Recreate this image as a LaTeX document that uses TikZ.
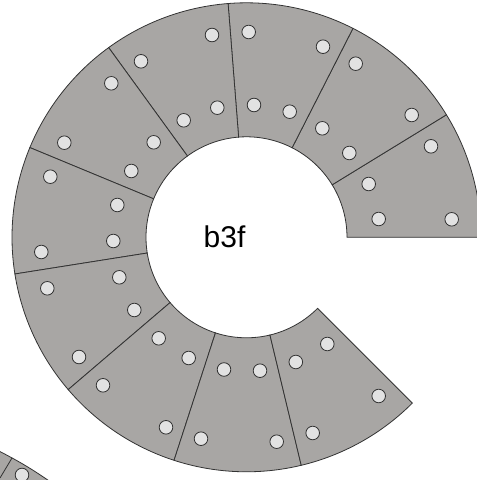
\documentclass[tikz,border=0pt]{standalone}
\usepackage{fontspec}
\setmainfont{Liberation Sans}
\definecolor{padgray}{HTML}{A8A6A4}
\definecolor{holegray}{HTML}{E2E2E2}
\definecolor{edgegray}{HTML}{333333}
\tikzset{
  sector/.style={fill=padgray,draw=edgegray,line width=0.8pt,line join=miter},
  hole/.style={fill=holegray,draw=edgegray,line width=0.8pt}
}
\begin{document}
\begin{tikzpicture}[x=1pt,y=1pt]
            \useasboundingbox (0,0) rectangle (477,480);
            \clip (0,0) rectangle (477,480);
            % ring of ten sectors
            \begin{scope}[shift={(246.5,242.7)}]
            \foreach \a in {0,31.5,...,283.5} {
                \filldraw[sector] (\a:100.5) -- (\a:234.5)
                    arc[start angle=\a,delta angle=31.5,radius=234.5]
                    -- ({\a+31.5}:100.5)
                    arc[start angle=\a+31.5,delta angle=-31.5,radius=100.5] -- cycle;
            }
            \end{scope}
            % piece of the next ring
            \filldraw[sector] (-5,31) to[bend left=4] (55,-5) -- (-5,-5) -- cycle;
            \coordinate (seamtop) at (12,22);
            \coordinate (seamend) at (0,2);
            \draw[sector] (seamtop) -- (seamend);
            % holes
            \foreach \x/\y in {
                431/333.7, 368.7/296, 378.7/261, 451.7/260.7, 411.7/365,
                322.3/351.7, 349.3/327, 355.7/416.3, 323/433.3, 248.7/448,
                212/445, 254/375, 289.7/368.3, 217.3/372.3, 141/418.7,
                183.7/359.7, 111.3/396.7, 64.3/337.3, 153.7/337.7, 131.3/309,
                50.3/303.3, 117.3/275, 113.3/239, 41.3/228, 47.3/191.7,
                119.3/202.7, 134.3/170, 79/123, 103/94.7, 158.7/141.7,
                188.7/122, 224/110.5, 166/52.7, 201/41.3, 260/109.3,
                295.8/118, 276.7/38.3, 312.7/47, 327.3/136, 378.7/84, 22/5} {
                \filldraw[hole] (\x,\y) circle (6.8);
            }
            \node[font=\fontsize{30}{30}\selectfont,anchor=base] (title) at (224.5,232) {b3f};
        \end{tikzpicture}
\end{document}
